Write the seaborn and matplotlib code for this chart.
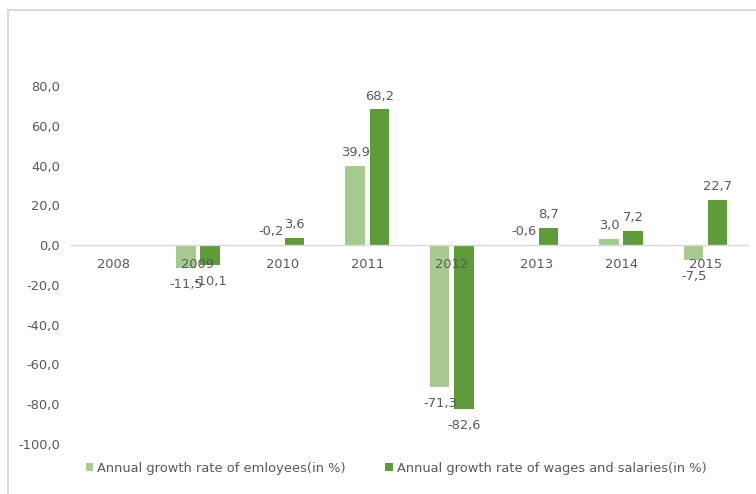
import numpy as np
import pandas as pd
import seaborn as sns
import matplotlib
matplotlib.use("Agg")
import matplotlib.pyplot as plt
from matplotlib.patches import Rectangle

years = ["2008", "2009", "2010", "2011", "2012", "2013", "2014", "2015"]
employees_growth = [np.nan, -11.5, -0.2, 39.9, -71.3, -0.6, 3.0, -7.5]
wages_growth = [np.nan, -10.1, 3.6, 68.2, -82.6, 8.7, 7.2, 22.7]
series_names = ["Annual growth rate of emloyees(in %)",
                "Annual growth rate of wages and salaries(in %)"]
y_ticks = [-100, -80, -60, -40, -20, 0, 20, 40, 60, 80]

sns.set_theme(style="white")
plt.rcParams["font.family"] = ["DejaVu Sans"]

text_color = "#595959"
colors = ["#A6CA90", "#5F9A3B"]
fs = 9.4

df = pd.DataFrame({
    "year": years * 2,
    "value": employees_growth + wages_growth,
    "series": [series_names[0]] * len(years) + [series_names[1]] * len(years),
})

fig = plt.figure(figsize=(7.56, 4.94), dpi=100)
ax = fig.add_axes([71 / 756, 1 - 444 / 494, (748 - 71) / 756, (444 - 86) / 494])

sns.barplot(data=df, x="year", y="value", hue="series", order=years,
            hue_order=series_names, palette=colors, saturation=1,
            width=0.57, gap=0.2, linewidth=0, ax=ax, legend=True)

ax.set_xlim(-0.5, len(years) - 0.5)
ax.set_ylim(-100, 80)
ax.set_yticks(y_ticks)
ax.set_yticklabels([f"{t:.1f}".replace(".", ",") for t in y_ticks])
ax.set_xlabel("")
ax.set_ylabel("")
ax.set_axisbelow(False)

for side in ["top", "right", "left"]:
    ax.spines[side].set_visible(False)
ax.spines["bottom"].set_position(("data", 0))
ax.spines["bottom"].set_color("#D9D9D9")
ax.spines["bottom"].set_linewidth(1.0)
ax.tick_params(axis="y", length=0, pad=8, labelsize=fs, labelcolor=text_color)
ax.tick_params(axis="x", length=0, pad=9, labelsize=fs, labelcolor=text_color)

# value labels on every bar
for container in ax.containers:
    for bar in container:
        h = bar.get_height()
        if np.isnan(h):
            continue
        xc = bar.get_x() + bar.get_width() / 2
        label = f"{h:.1f}".replace(".", ",")
        if h >= -1:
            ax.annotate(label, (xc, max(h, 0)), xytext=(0, 5),
                        textcoords="offset points", ha="center", va="bottom",
                        fontsize=fs, color=text_color)
        else:
            ax.annotate(label, (xc, h), xytext=(0, -7),
                        textcoords="offset points", ha="center", va="top",
                        fontsize=fs, color=text_color)

leg = ax.legend(loc="center", bbox_to_anchor=(0.524, 0.0526),
                bbox_transform=fig.transFigure, ncol=2, frameon=False,
                fontsize=fs, handlelength=0.6, handleheight=0.6,
                handletextpad=0.3, columnspacing=3.0, labelcolor=text_color)

# chart frame
fig.patches.append(Rectangle((7.5 / 756, -0.1), 1.2, 1 - 9.5 / 494 + 0.1,
                             transform=fig.transFigure, fill=False,
                             edgecolor="#D9D9D9", linewidth=1.5, clip_on=False))

fig.savefig("out.png", dpi=100)
